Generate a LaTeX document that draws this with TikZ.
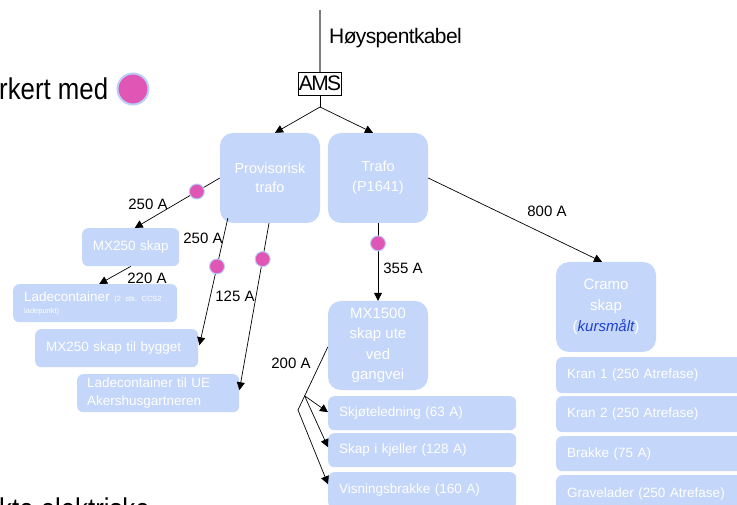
\documentclass[tikz,border=0pt]{standalone}
\usepackage{fontspec}
\setmainfont{Liberation Sans}
\newfontfamily\legendfont{Liberation Sans}[FakeStretch=0.86]
\usetikzlibrary{arrows.meta,calc}
\definecolor{boxblue}{RGB}{196,214,250}
\definecolor{dotpink}{RGB}{224,86,180}
\definecolor{dotring}{RGB}{186,206,250}
\definecolor{kblue}{RGB}{30,64,210}
\definecolor{cablegray}{RGB}{125,125,125}
\newcommand\fsz[2]{\fontsize{#1pt}{#2pt}\selectfont}
\frenchspacing
\begin{document}
\begin{tikzpicture}[x=1pt,y=-1pt,
  bigbox/.style={rounded corners=13pt, fill=boxblue, text=white, align=center,
    minimum width=100pt, minimum height=90pt, inner sep=0pt, font=\fsz{14.5}{19.5}},
  smallbox/.style={rounded corners=6pt, fill=boxblue, text=white, align=left,
    anchor=north west, inner xsep=11pt, inner ysep=0pt, font=\fsz{13.5}{17}},
  amp/.style={font=\fsz{15}{18}, inner sep=0pt},
  dot/.style={circle, fill=dotpink, draw=dotring, line width=1pt, minimum size=15pt, inner sep=0pt},
  conn/.style={line width=0.7pt, -{Triangle[length=8pt,width=8pt]}},
  plainline/.style={line width=0.7pt},
  bigtext/.style={font=\legendfont\fsz{30}{34}, inner sep=0pt, anchor=base west}
]
\useasboundingbox (0,0) rectangle (737,505);
\clip (0,0) rectangle (737,505);

% legend fragments
\node[bigtext] (legend) at (-1,100) {rkert med};
\node[circle, fill=dotpink, draw=dotring, line width=2pt, minimum size=31pt, inner sep=0pt] (legdot) at (133,89) {};
\node[bigtext] (bottomtext) at (-1,519) {kte elektriske};

% top
\coordinate (cable) at (320,10);
\node[draw, line width=0.7pt, minimum width=43pt, minimum height=23pt, inner sep=0pt,
      font=\addfontfeature{LetterSpace=-8}\fsz{21}{24}] (ams) at (320,83.5) {AMS};
\node[anchor=base west, inner sep=0pt, font=\addfontfeature{LetterSpace=-3}\fsz{21}{24}] (hkabel) at (329,44) {Høyspentkabel};
\coordinate (j0) at (320,107);

% big boxes
\node[bigbox] (prov) at (270,178) {Provisorisk\\trafo};
\node[bigbox] (trafo) at (378,178) {Trafo\\(P1641)};
\node[bigbox, minimum height=89pt, font=\fsz{15}{20.5}] (mx1500) at (378,345.5) {MX1500\\skap ute\\ved\\gangvei};
\node[bigbox, font=\fsz{15}{21}] (cramo) at (606,307) {Cramo\\skap\\(\textcolor{kblue}{\itshape kursmålt})};

% small boxes
\node[smallbox, align=center, inner xsep=3pt, minimum width=97pt, minimum height=38pt, text width=91pt] (mx250) at (82,228) {MX250 skap};
\node[smallbox, minimum width=164pt, minimum height=38pt, text width=142pt] (lade) at (13,284)
  {Ladecontainer {\fsz{7.5}{9}(2 stk. CCS2}\\[-5pt]{\fsz{7.5}{9}ladepunkt)}};
\node[smallbox, minimum width=163pt, minimum height=38pt, text width=141pt] (bygg) at (35,329) {MX250 skap til bygget};
\node[smallbox, inner xsep=10pt, minimum width=162pt, minimum height=38pt, text width=142pt, font=\fsz{13.5}{18}] (ladeue) at (77,374) {Ladecontainer til UE\\Akershusgartneren};
\node[smallbox, minimum width=188pt, minimum height=34pt, text width=166pt] (skjote) at (328,396) {Skjøteledning (63 A)};
\node[smallbox, minimum width=188pt, minimum height=34pt, text width=166pt] (kjeller) at (328,433) {Skap i kjeller (128 A)};
\node[smallbox, minimum width=188pt, minimum height=36pt, text width=166pt] (visning) at (328,472) {Visningsbrakke (160 A)};
\node[smallbox, minimum width=195pt, minimum height=36pt, text width=173pt] (kran1) at (556,357) {Kran 1 (250 Atrefase)};
\node[smallbox, minimum width=195pt, minimum height=36pt, text width=173pt] (kran2) at (556,396) {Kran 2 (250 Atrefase)};
\node[smallbox, minimum width=195pt, minimum height=35pt, text width=173pt] (brakke) at (556,436) {Brakke (75 A)};
\node[smallbox, minimum width=195pt, minimum height=38pt, text width=173pt] (grave) at (556,475) {Gravelader (250 Atrefase)};

% connectors top
\draw[cablegray, line width=1.3pt] (cable) -- (ams.north);
\draw[plainline] (ams.south) -- (j0);
\draw[conn] (j0) -- ($(prov.north)+(5,0)$);
\draw[conn] (j0) -- ($(trafo.north)+(-5,0)$);

% from provisorisk
\draw[conn] (prov.west) -- node[pos=0.27, dot] (d1) {} ($(mx250.north)+(4,0)$);
\draw[conn] ($(prov.south west)+(8,-5)$) -- node[pos=0.38, dot] (d2) {} ($(bygg.east)+(1,-3)$);
\draw[conn] ($(prov.south)+(-1,0)$) -- node[pos=0.215, dot] (d3) {} ($(ladeue.east)+(0,-3)$);
\draw[conn] (mx250.south) -- ($(lade.north)+(4,0)$);

% from trafo
\draw[conn] (trafo.south) -- node[pos=0.26, dot] (d4) {} (mx1500.north);
\draw[conn] (trafo.east) -- ($(cramo.north)+(-4,0)$);

% from MX1500
\coordinate (j2) at (298,410);
\coordinate (j1) at ($(mx1500.west)!0.78!(j2)$);
\draw[plainline] ($(mx1500.west)+(0,1.5)$) -- (j2);
\draw[conn] (j1) -- ($(skjote.west)+(0,-1)$);
\draw[conn] (j1) -- ($(kjeller.west)+(0,-3)$);
\draw[conn] (j2) -- ($(visning.west)+(0,-6)$);

% amp labels
\node[amp] (a1) at (148,204) {250 A};
\node[amp] (a2) at (203,238) {250 A};
\node[amp] (a3) at (147,278) {220 A};
\node[amp] (a4) at (235,296) {125 A};
\node[amp] (a5) at (403,268) {355 A};
\node[amp] (a6) at (547,211) {800 A};
\node[amp] (a7) at (291,363) {200 A};
\end{tikzpicture}
\end{document}
